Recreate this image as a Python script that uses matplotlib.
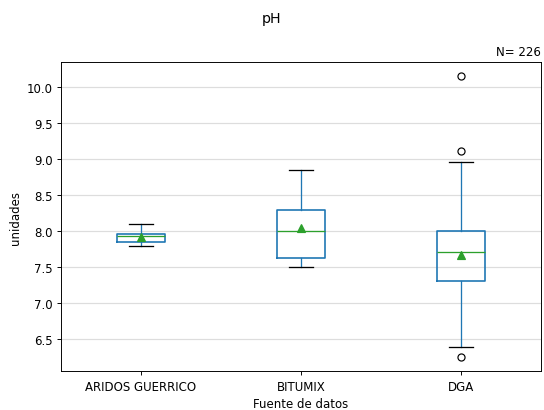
import matplotlib
matplotlib.use('Agg')
import matplotlib.pyplot as plt

# valores
fuentes = ['ARIDOS GUERRICO', 'BITUMIX', 'DGA']
whislo = [7.80, 7.50, 6.40]
q1 = [7.857, 7.625, 7.306]
med = [7.935, 8.00, 7.708]
q3 = [7.963, 8.296, 8.00]
whishi = [8.10, 8.852, 8.958]
mean = [7.92, 8.04, 7.67]
fliers = [[], [], [10.157, 9.12, 6.25]]
n_total = 226

stats = []
for i, f in enumerate(fuentes):
    stats.append({'label': f, 'whislo': whislo[i], 'q1': q1[i], 'med': med[i],
                  'q3': q3[i], 'whishi': whishi[i], 'mean': mean[i],
                  'fliers': fliers[i]})

# figura por defecto (6.4x4.8) a 85 dpi -> 544x411 aprox
fig = plt.figure(figsize=(6.4, 4.835), dpi=85)
ax = fig.add_axes([0.112, 0.094, 0.882, 0.753])

ax.bxp(stats, showmeans=True, widths=0.3,
       boxprops=dict(color='#1f77b4', linewidth=1.4),
       whiskerprops=dict(color='#1f77b4', linewidth=1.1),
       capprops=dict(color='k', linewidth=1.1),
       medianprops=dict(color='#2ca02c', linewidth=1.1),
       meanprops=dict(marker='^', markerfacecolor='#2ca02c', markeredgecolor='#2ca02c'),
       flierprops=dict(marker='o', markerfacecolor='none', markeredgecolor='k'))

ax.yaxis.grid(True, color='#dddddd', linewidth=1)
ax.set_axisbelow(True)
ax.set_xlabel('Fuente de datos')
ax.set_ylabel('unidades')
ax.set_title(f'N= {n_total}', loc='right', fontsize=10)
fig.suptitle('pH', y=0.972)

fig.savefig('out.png', dpi=85)
